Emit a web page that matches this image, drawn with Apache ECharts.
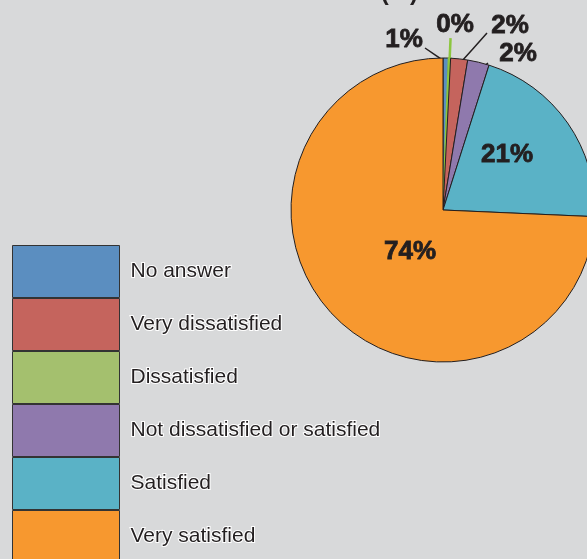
<!DOCTYPE html>
<html>
<head>
<meta charset="utf-8">
<script src="https://cdn.jsdelivr.net/npm/echarts@6/dist/echarts.min.js"></script>
<style>
html,body{margin:0;padding:0;background:#d8d9da;}
#c{width:587px;height:559px;}
</style>
</head>
<body>
<div id="c"></div>
<script>
// Data (pie order, clockwise from 12 o'clock)
const categories = ['No answer', 'Dissatisfied', 'Very dissatisfied', 'Not dissatisfied or satisfied', 'Satisfied', 'Very satisfied'];
const values = [0.6, 0.2, 1.8, 2.3, 20.8, 74.3];
const legendOrder = ['No answer', 'Very dissatisfied', 'Dissatisfied', 'Not dissatisfied or satisfied', 'Satisfied', 'Very satisfied'];
const titleText = 'Overall Satisfaction Level (%)';

const colorMap = {
  'No answer': '#5b8ec0',
  'Very dissatisfied': '#c5645d',
  'Dissatisfied': '#a4c06e',
  'Not dissatisfied or satisfied': '#8f79ad',
  'Satisfied': '#5ab2c6',
  'Very satisfied': '#f7982f'
};

const CX = 443, CY = 210, R = 152;
const total = values.reduce((a, b) => a + b, 0);
const mids = [];
let acc = 0;
values.forEach(v => { mids.push((acc + v / 2) / total * 360); acc += v; });
function polar(deg, r) {
  const a = deg * Math.PI / 180;
  return [CX + r * Math.sin(a), CY - r * Math.cos(a)];
}
// label placement (layout only): label center offset from pie centre, line end offset, anchor radius
const spots = {
  0: { label: [-39, -170], lineEnd: [-18, -162], anchorR: 148 },
  1: { label: [12, -185], lineEnd: null, anchorR: 152 },
  2: { label: [67, -184], lineEnd: [44, -177], anchorR: 146 },
  3: { label: [75, -156], lineEnd: [45, -147], anchorR: 141 },
  4: { label: [64, -55] },
  5: { label: [-33, 42] }
};

const chart = echarts.init(document.getElementById('c'), null, { renderer: 'canvas' });
const data = categories.map((name, i) => {
  const small = i < 4;
  return {
    name: name,
    value: values[i],
    itemStyle: name === 'Dissatisfied'
      ? { color: colorMap[name], borderColor: '#8cc63f', borderWidth: 2 }
      : { color: colorMap[name] },
    label: { position: small ? 'outside' : 'inside' },
    labelLine: {
      show: small,
      lineStyle: { color: name === 'Dissatisfied' ? '#8cc63f' : '#231f20', width: name === 'Dissatisfied' ? 2.5 : 1.5 }
    }
  };
});

chart.setOption({
  backgroundColor: '#d8d9da',
  animation: false,
  graphic: [{
    type: 'text',
    right: 587 - 418,
    top: -19,
    style: { text: titleText, font: 'bold 24px "Liberation Sans", Arial, sans-serif', fill: '#231f20' }
  }],
  legend: {
    data: legendOrder,
    orient: 'vertical',
    left: 12,
    top: 245,
    height: 400,
    padding: 0,
    itemGap: 0,
    itemWidth: 107,
    itemHeight: 52,
    icon: 'rect',
    selectedMode: false,
    itemStyle: { borderColor: '#333', borderWidth: 1 },
    textStyle: {
      fontFamily: '"Liberation Sans", Arial, sans-serif',
      fontSize: 21,
      color: '#231f20',
      textBorderColor: '#ffffff',
      textBorderWidth: 2,
      padding: [0, 0, 0, 6]
    }
  },
  series: [{
    type: 'pie',
    center: [CX, CY],
    radius: R,
    startAngle: 90,
    clockwise: true,
    avoidLabelOverlap: false,
    data: data,
    itemStyle: { borderColor: '#231f20', borderWidth: 1 },
    label: {
      show: true,
      formatter: p => Math.round(p.value) + '%',
      fontFamily: '"Liberation Sans", Arial, sans-serif',
      fontWeight: 'bold',
      fontSize: 26,
      color: '#231f20',
      textBorderColor: '#231f20',
      textBorderWidth: 0.8
    },
    labelLine: { show: true, length: 10, length2: 0 },
    labelLayout: function (params) {
      const i = params.dataIndex;
      const s = spots[i];
      const out = {
        x: CX + s.label[0],
        y: CY + s.label[1],
        align: 'center',
        verticalAlign: 'middle'
      };
      if (i < 4) {
        const a = polar(mids[i], s.anchorR);
        const e = s.lineEnd ? [CX + s.lineEnd[0], CY + s.lineEnd[1]] : polar(mids[i], 172);
        out.labelLinePoints = [a, [(a[0] + e[0]) / 2, (a[1] + e[1]) / 2], e];
      }
      return out;
    },
    emphasis: { disabled: true }
  }]
});
</script>
</body>
</html>
